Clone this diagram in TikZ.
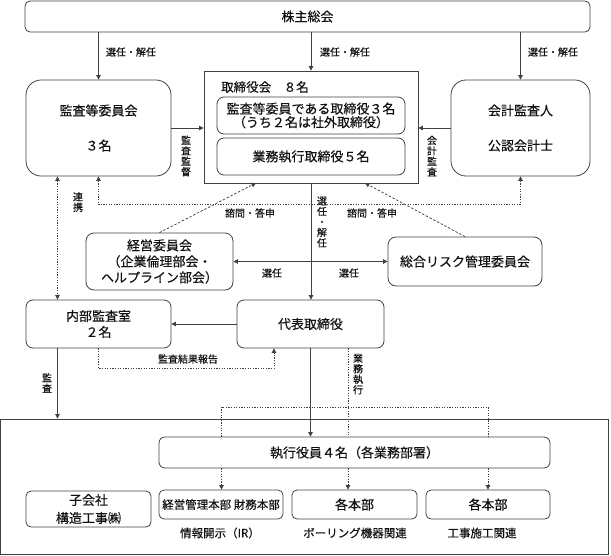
\documentclass[tikz,border=0pt]{standalone}
\usepackage{fontspec}
\setmainfont{Noto Sans CJK JP}[FakeBold=0.35]
\usetikzlibrary{arrows.meta,calc}
\definecolor{linec}{HTML}{404040}
\definecolor{txtc}{HTML}{111111}
\newcommand\myfs[2]{\fontsize{#1}{#2}\selectfont}
\begin{document}
\begin{tikzpicture}[x=1pt,y=-1pt,
  >={Triangle[length=4.5pt,width=4.5pt]},
  ln/.style={draw=linec, line width=0.75pt},
  dotl/.style={ln, dash pattern=on 1.2pt off 1.4pt},
  dashl/.style={ln, dash pattern=on 2.4pt off 1.8pt},
  box/.style={draw=linec, line width=0.8pt, rounded corners=#1, inner sep=0pt,
    align=center, text=txtc, font=\myfs{13}{16}},
  lab/.style={inner sep=0pt, text=txtc, font=\myfs{10}{12}},
  vlab/.style={inner sep=0pt, text=txtc, align=center, font=\myfs{10}{10.5}},
  sub/.style={inner sep=0pt, text=txtc, font=\myfs{11.5}{14}}]
\useasboundingbox (0,0) rectangle (611,555);

% outer frame of the lower area
\node[draw=linec, line width=0.8pt, inner sep=0pt, minimum width=608pt, minimum height=135pt] (big) at (304.5,486.5) {};

% nodes
\node[box=5pt, minimum width=565pt, minimum height=31pt] (sh) at (307.5,16.5) {株主総会};
\node[box=15pt, minimum width=145pt, minimum height=96pt, font=\myfs{13}{35}] (kansa) at (98.5,128) {監査等委員会\\３名};
\node[draw=linec, line width=0.8pt, inner sep=0pt, minimum width=214pt, minimum height=112pt] (board) at (311,127) {};
\node[inner sep=0pt, anchor=west, text=txtc, font=\myfs{12.5}{15}] (btitle) at (221,87) {取締役会　８名};
\node[box=7pt, minimum width=188pt, minimum height=37pt, font=\myfs{13}{13.5}] (in1) at (311,115.5) {監査等委員である取締役３名\\（うち２名は社外取締役）};
\node[box=7pt, minimum width=188pt, minimum height=37pt] (in2) at (311,156.5) {業務執行取締役５名};
\node[box=15pt, minimum width=139pt, minimum height=96pt, font=\myfs{13}{35}] (kaikei) at (520.5,128) {会計監査人\\公認会計士};

\node[box=8pt, minimum width=147pt, minimum height=57pt, font=\myfs{13}{16}] (keiei) at (159.5,261.5) {経営委員会\\（企業倫理部会・\\ヘルプライン部会）};
\node[box=8pt, minimum width=154pt, minimum height=49pt] (risk) at (465,261.5) {総合リスク管理委員会};

\node[box=7pt, minimum width=145pt, minimum height=48pt] (naibu) at (98.5,324) {内部監査室\\２名};
\node[box=7pt, minimum width=147pt, minimum height=48pt] (daihyo) at (310.5,324) {代表取締役};

\node[box=6pt, minimum width=391pt, minimum height=31pt] (shikko) at (354.5,452.5) {執行役員４名（各業務部署）};
\node[box=5pt, minimum width=125pt, minimum height=36pt, font=\myfs{13}{18}] (kogai) at (88.5,509) {子会社\\構造工事㈱};
\node[box=5pt, minimum width=124pt, minimum height=29pt, font=\myfs{11.5}{14}] (kanri) at (221,504.5) {経営管理本部 財務本部};
\node[box=5pt, minimum width=125pt, minimum height=29pt] (hon1) at (354.5,504.5) {各本部};
\node[box=5pt, minimum width=124pt, minimum height=29pt] (hon2) at (488,504.5) {各本部};
\node[sub] (sub1) at (220,533) {情報開示（IR）};
\node[sub] (sub2) at (355,533) {ボーリング機器関連};
\node[sub] (sub3) at (482,533) {工事施工関連};

% helper coordinates
\coordinate (lx) at (57.5,0);
\coordinate (bA) at (256,183);
\coordinate (bB) at (365,183);
\coordinate (dA) at (221.5,407);
\coordinate (dB) at (348,407);
\coordinate (dC) at (488,407);
\coordinate (rp) at (274,0);

% election arrows from shareholders
\draw[ln,->] (kansa.north |- sh.south) -- (kansa.north);
\draw[ln,->] (board.north |- sh.south) -- (board.north);
\draw[ln,->] (kaikei.north |- sh.south) -- (kaikei.north);
\node[lab] (s1) at (131,52) {選任・解任};
\node[lab] (s2) at (345,52) {選任・解任};
\node[lab] (s3) at (553,52) {選任・解任};

% audit arrows into board
\draw[ln,->] (kansa.east) -- (kansa.east -| board.west);
\draw[ln,->] (kaikei.west) -- (kaikei.west -| board.east);
\node[vlab] (v1) at (186,156) {監\\査\\監\\督};
\node[vlab] (v2) at (432,156) {会\\計\\監\\査};

% cooperation
\draw[dotl,<->] (lx |- kansa.south) -- (lx |- naibu.north);
\node[vlab] (v3) at (78,202) {連\\携};
\draw[dotl,<->] (kansa.south) -- ++(0,28) -| (kaikei.south);

% consultation
\draw[dashl,->] (keiei.north) -- (bA);
\draw[dashl,->] (risk.north) -- (bB);
\node[lab] (q1) at (250,213) {諮問・答申};
\node[lab] (q2) at (372,213) {諮問・答申};

% board to representative director
\draw[ln,->] (board.south) -- (board.south |- daihyo.north);
\node[vlab] (v4) at (322,222) {選\\任\\・\\解\\任};

% committees
\draw[ln,<->] (keiei.east) -- (risk.west);
\node[lab] (e1) at (272,273) {選任};
\node[lab] (e2) at (349,273) {選任};

% representative director and internal audit
\draw[ln,->] (daihyo.west) -- (daihyo.west -| naibu.east);
\draw[dotl,->] (naibu.south) -- ++(0,20) -| (rp |- daihyo.south);
\node[lab] (r1) at (188,359) {監査結果報告};
\draw[ln,->] (lx |- naibu.south) -- (lx |- big.north);
\node[vlab] (v5) at (47,383) {監\\査};

% execution
\draw[ln,->] (daihyo.south) -- (daihyo.south |- shikko.north);
\draw[dotl] (dB |- daihyo.south) -- (dB |- shikko.north);
\draw[dotl] (dA |- shikko.north) -- (dA) -- (dC) -- (dC |- shikko.north);
\node[vlab] (v6) at (358,374) {業\\務\\執\\行};
\draw[dotl,->] (dA |- shikko.south) -- (dA |- kanri.north);
\draw[dotl,->] (dB |- shikko.south) -- (dB |- hon1.north);
\draw[dotl,->] (dC |- shikko.south) -- (dC |- hon2.north);
\end{tikzpicture}
\end{document}
